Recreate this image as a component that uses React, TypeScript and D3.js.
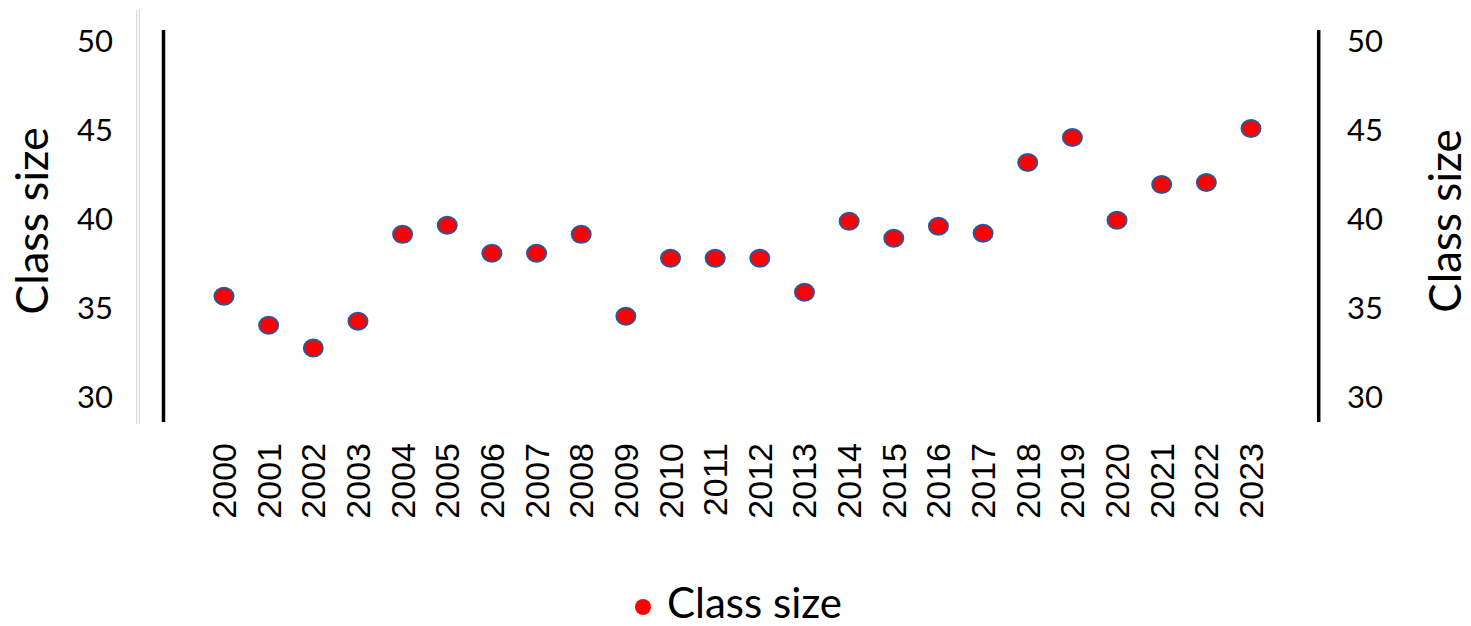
import * as d3 from 'd3'

const years = [
  '2000', '2001', '2002', '2003', '2004', '2005', '2006', '2007', '2008', '2009', '2010', '2011',
  '2012', '2013', '2014', '2015', '2016', '2017', '2018', '2019', '2020', '2021', '2022', '2023',
]
const classSize = [
  35.66, 34.03, 32.75, 34.26, 39.13, 39.64, 38.07, 38.07, 39.13, 34.54, 37.79, 37.79,
  37.79, 35.88, 39.86, 38.91, 39.58, 39.19, 43.17, 44.57, 39.92, 41.93, 42.04, 45.07,
]
const yTicks = [30, 35, 40, 45, 50]
const seriesName = 'Class size'

export default function App() {
  const width = 1471
  const height = 626
  const font = 'Lato, "Open Sans", sans-serif'

  // x: one point per year
  const x = d3.scalePoint<string>().domain(years).range([224, 1251])
  // y: both axes share it
  const y = d3.scaleLinear().domain([28.6, 50.6]).range([422, 30])

  const leftX = 163.5
  const rightX = 1318.7
  const [y0, y1] = y.range()

  return (
    <svg
      width={width}
      height={height}
      style={{ position: 'absolute', left: 0, top: 0, background: '#fff' }}
      fontFamily={font}
    >
      {/* faint frame line at the left */}
      <line x1={136.7} x2={136.7} y1={10} y2={424} stroke="#d4d4d4" strokeWidth={1} />
      <line x1={139.3} x2={139.3} y1={10} y2={424} stroke="#d4d4d4" strokeWidth={1} />

      {/* axes */}
      <line x1={leftX} x2={leftX} y1={y0} y2={y1} stroke="#000" strokeWidth={3.5} />
      <line x1={rightX} x2={rightX} y1={y0} y2={y1} stroke="#000" strokeWidth={3.5} />

      {yTicks.map((t) => (
        <g key={t} fontSize={31} fill="#000">
          <text x={113} y={y(t) + 11} textAnchor="end">
            {t}
          </text>
          <text x={1347} y={y(t) + 11} textAnchor="start">
            {t}
          </text>
        </g>
      ))}

      {/* axis titles */}
      <text
        transform={`translate(48,221) rotate(-90)`}
        textAnchor="middle"
        fontSize={45}
        fill="#000"
      >
        {seriesName}
      </text>
      <text
        transform={`translate(1461,221) rotate(-90)`}
        textAnchor="middle"
        fontSize={44}
        fill="#000"
      >
        {seriesName}
      </text>

      {/* year labels */}
      {years.map((yr) => (
        <text
          key={yr}
          transform={`translate(${x(yr)},443) rotate(-90)`}
          textAnchor="end"
          dominantBaseline="central"
          fontFamily='"Liberation Sans", Arial, sans-serif'
          fontSize={34}
          fill="#000"
        >
          {yr}
        </text>
      ))}

      {/* points */}
      <g fill="#ff0000" stroke="#2f5597" strokeWidth={2}>
        {classSize.map((v, i) => (
          <ellipse key={years[i]} cx={x(years[i])} cy={y(v)} rx={9.5} ry={8.5} />
        ))}
      </g>

      {/* legend */}
      <circle cx={643} cy={607} r={8} fill="#ff0000" />
      <text x={667} y={618} fontSize={42} fill="#000">
        {seriesName}
      </text>
    </svg>
  )
}
